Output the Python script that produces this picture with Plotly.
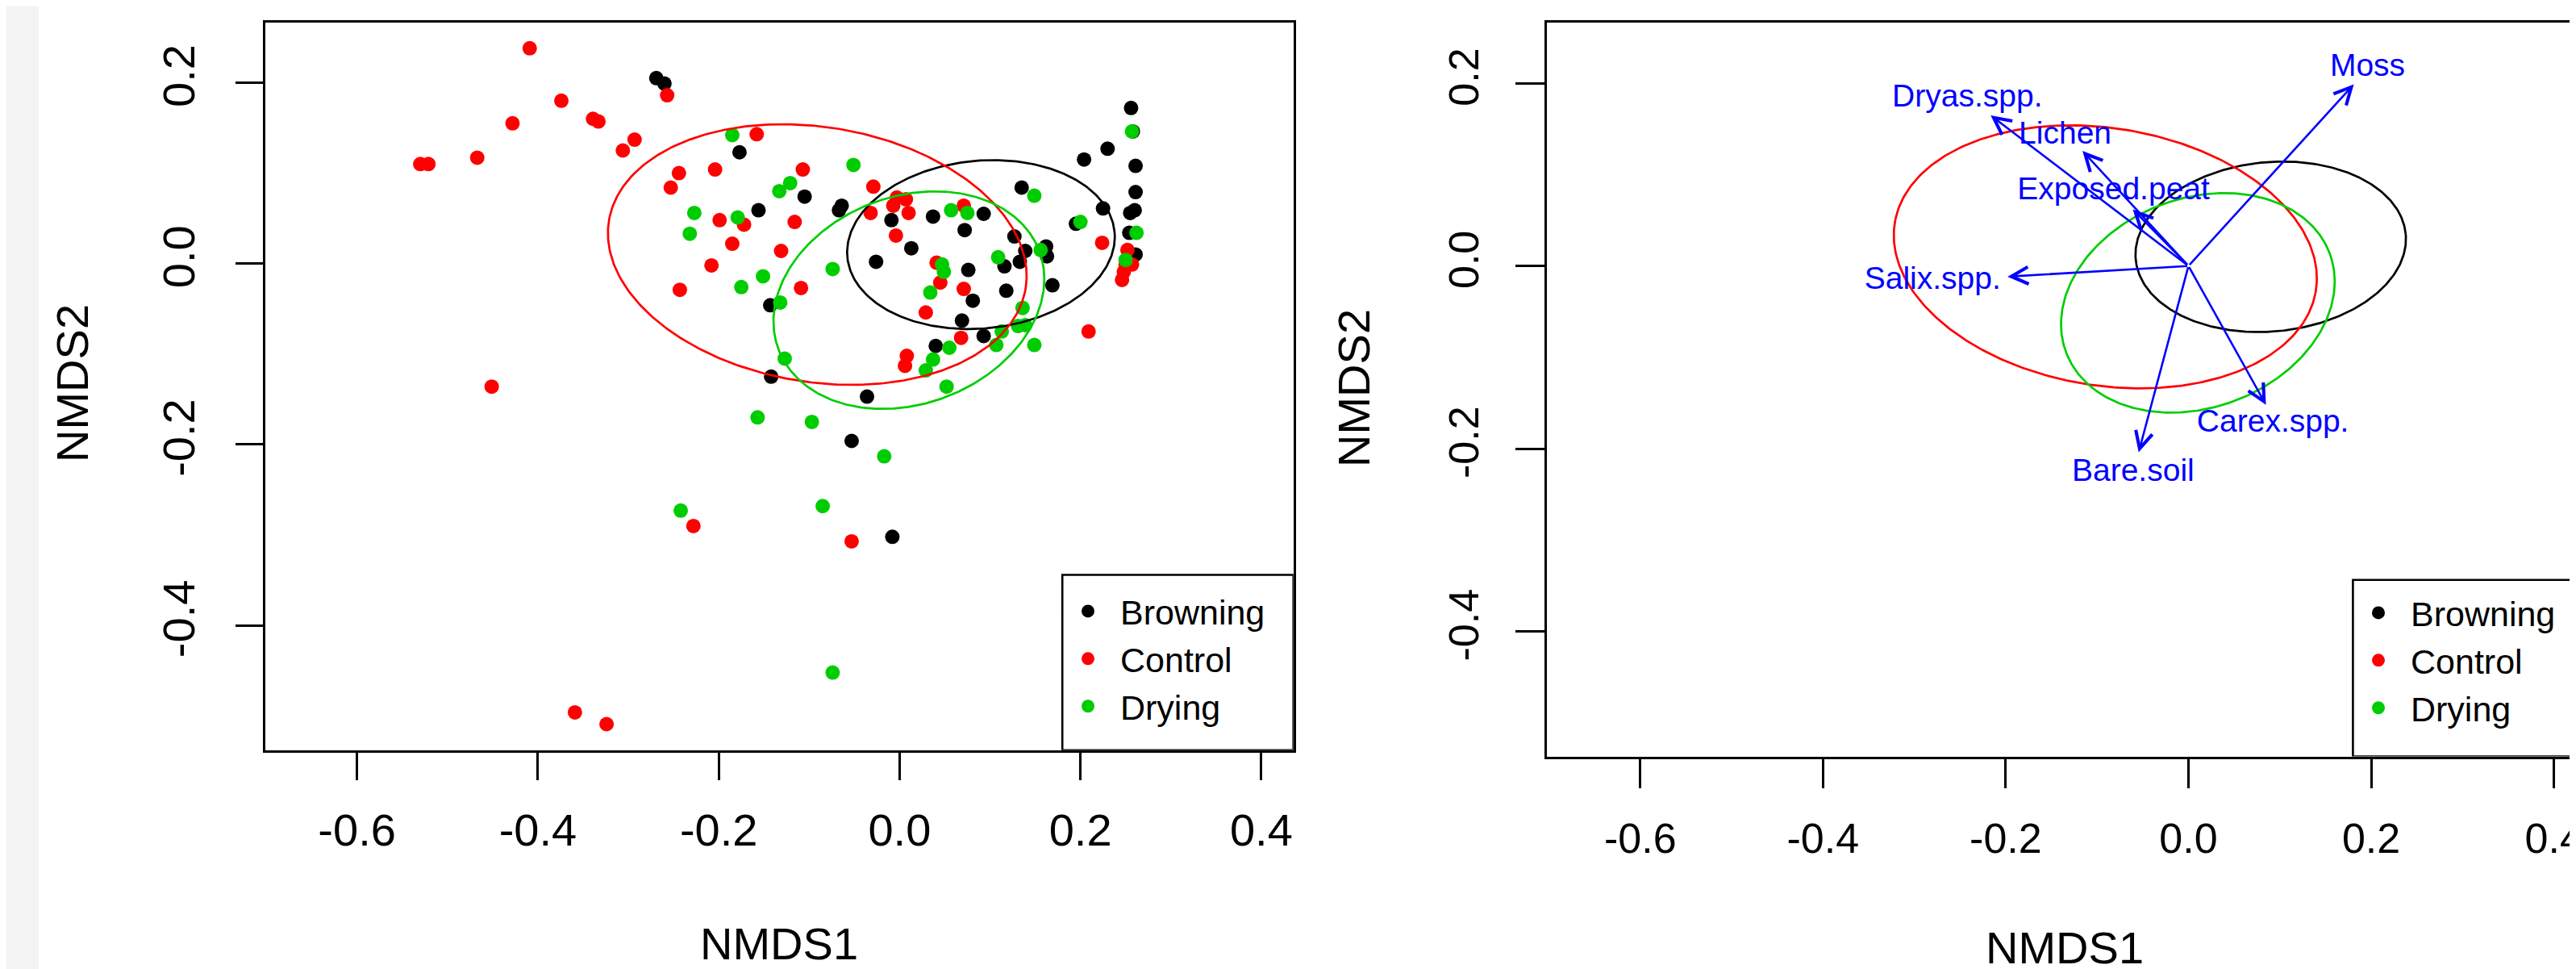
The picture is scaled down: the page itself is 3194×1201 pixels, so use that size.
import numpy as np
import plotly.graph_objects as go

W, H = 3194, 1201

groups = ["Browning", "Control", "Drying"]
colors = ["#000000", "#FF0000", "#00CD00"]

browning_x = [-0.269, -0.260, -0.177, -0.156, -0.105, -0.064, -0.067, -0.009, 0.013, -0.026,
              0.037, 0.072, 0.093, 0.135, 0.127, 0.139, 0.116, 0.133, 0.162, 0.163,
              0.076, 0.081, 0.118, 0.169, 0.069, 0.093, 0.040, -0.143, -0.142, -0.036,
              -0.053, -0.008, 0.204, 0.230, 0.256, 0.258, 0.261, 0.261, 0.260, 0.255,
              0.225, 0.195, 0.254, 0.261]
browning_y = [0.205, 0.199, 0.123, 0.059, 0.074, 0.064, 0.059, 0.048, 0.017, 0.002,
              0.052, 0.037, 0.055, 0.084, 0.030, 0.014, -0.003, 0.002, 0.019, 0.008,
              -0.007, -0.041, -0.030, -0.024, -0.063, -0.080, -0.091, -0.046, -0.125, -0.147,
              -0.196, -0.302, 0.115, 0.127, 0.172, 0.146, 0.108, 0.079, 0.059, 0.056,
              0.061, 0.044, 0.034, 0.010]

control_x = [-0.409, -0.374, -0.428, -0.339, -0.333, -0.257, -0.293, -0.306, -0.530, -0.521,
             -0.467, -0.244, -0.253, -0.158, -0.204, -0.107, -0.199, -0.172, -0.185, -0.116,
             -0.131, -0.208, -0.243, -0.109, -0.029, -0.032, -0.003, 0.007, -0.007, 0.010,
             -0.004, 0.041, 0.045, 0.071, 0.071, 0.029, 0.068, 0.008, 0.006, -0.451,
             -0.228, -0.053, -0.359, -0.324, 0.224, 0.209, 0.252, 0.250, 0.248, 0.246, 0.257]
control_y = [0.238, 0.180, 0.155, 0.160, 0.157, 0.186, 0.137, 0.125, 0.110, 0.110,
             0.117, 0.100, 0.084, 0.143, 0.104, 0.104, 0.048, 0.043, 0.022, 0.046,
             0.014, -0.002, -0.029, -0.027, 0.085, 0.056, 0.073, 0.071, 0.064, 0.056,
             0.031, 0.001, -0.021, 0.064, -0.028, -0.054, -0.082, -0.102, -0.113, -0.136,
             -0.290, -0.307, -0.496, -0.509, 0.023, -0.075, 0.015, -0.001, -0.009, -0.018, -0.001]

drying_x = [-0.185, -0.051, -0.133, -0.121, -0.227, -0.179, -0.232, -0.074, -0.151, -0.175,
            -0.132, -0.127, 0.057, 0.075, 0.149, 0.109, 0.047, 0.049, 0.034, 0.156,
            0.136, 0.131, 0.139, 0.113, 0.107, 0.149, 0.055, 0.037, 0.029, 0.052,
            -0.157, -0.097, -0.017, -0.242, -0.085, -0.074, 0.200, 0.257, 0.262, 0.250]
drying_y = [0.142, 0.109, 0.080, 0.089, 0.056, 0.051, 0.033, -0.006, -0.014, -0.026,
            -0.043, -0.105, 0.059, 0.056, 0.075, 0.007, -0.001, -0.009, -0.032, 0.015,
            -0.049, -0.069, -0.068, -0.075, -0.090, -0.090, -0.093, -0.106, -0.118, -0.136,
            -0.170, -0.175, -0.213, -0.273, -0.268, -0.452, 0.046, 0.146, 0.034, 0.004]

# group ellipses: centre, semi-axes, rotation (degrees)
ell_cx = [0.090, -0.091, 0.0103]
ell_cy = [0.021, 0.010, -0.0404]
ell_a = [0.1484, 0.2334, 0.1541]
ell_b = [0.0927, 0.1409, 0.1146]
ell_angle = [5.4, -9.2, 20.6]

# fitted vectors (envfit) and their labels
arrow_names = ["Moss", "Dryas.spp.", "Lichen", "Exposed.peat", "Salix.spp.", "Bare.soil", "Carex.spp."]
arrow_x = [0.181, -0.2165, -0.116, -0.061, -0.198, -0.0545, 0.0848]
arrow_y = [0.199, 0.165, 0.126, 0.062, -0.0117, -0.204, -0.152]
label_x = [0.196, -0.242, -0.135, -0.082, -0.280, -0.0606, 0.0924]
label_y = [0.217, 0.183, 0.143, 0.0815, -0.016, -0.227, -0.173]

x_ticks = [-0.6, -0.4, -0.2, 0.0, 0.2, 0.4]
x_tick_labels = ["-0.6", "-0.4", "-0.2", "0.0", "0.2", "0.4"]
y_ticks = [-0.4, -0.2, 0.0, 0.2]
y_tick_labels = ["-0.4", "-0.2", "0.0", "0.2"]

FONT = "Liberation Sans, Arial, sans-serif"

pts = {"Browning": (browning_x, browning_y),
       "Control": (control_x, control_y),
       "Drying": (drying_x, drying_y)}

fig = go.Figure()

# left panel: points
for g, c in zip(groups, colors):
    x, y = pts[g]
    fig.add_trace(go.Scatter(x=x, y=y, mode="markers", name=g,
                             marker=dict(color=c, size=18, line=dict(width=0)),
                             xaxis="x", yaxis="y", legend="legend"))


def ellipse(i):
    t = np.linspace(0, 2 * np.pi, 361)
    th = np.deg2rad(ell_angle[i])
    ex = ell_cx[i] + ell_a[i] * np.cos(t) * np.cos(th) - ell_b[i] * np.sin(t) * np.sin(th)
    ey = ell_cy[i] + ell_a[i] * np.cos(t) * np.sin(th) + ell_b[i] * np.sin(t) * np.cos(th)
    return ex, ey


for ax_x, ax_y in [("x", "y"), ("x2", "y2")]:
    for i, c in enumerate(colors):
        ex, ey = ellipse(i)
        fig.add_trace(go.Scatter(x=ex, y=ey, mode="lines", line=dict(color=c, width=2.7),
                                 showlegend=False, hoverinfo="skip", xaxis=ax_x, yaxis=ax_y))

# right panel legend entries (no points drawn in that panel)
for g, c in zip(groups, colors):
    fig.add_trace(go.Scatter(x=[None], y=[None], mode="markers", name=g,
                             marker=dict(color=c, size=18), xaxis="x2", yaxis="y2",
                             legend="legend2"))

# vector labels
fig.add_trace(go.Scatter(x=label_x, y=label_y, mode="text", text=arrow_names,
                         textposition="middle center",
                         textfont=dict(color="#0000FF", size=39, family=FONT),
                         showlegend=False, hoverinfo="skip", xaxis="x2", yaxis="y2"))

annotations = []
for xi, yi in zip(arrow_x, arrow_y):
    annotations.append(dict(x=xi, y=yi, ax=0, ay=0, xref="x2", yref="y2", axref="x2", ayref="y2",
                            text="", showarrow=True, arrowhead=5, arrowsize=1.6, arrowwidth=2.6,
                            arrowcolor="#0000FF", standoff=0))

# axis titles
annotations += [
    dict(text="NMDS1", x=958 / W, y=1 - 1161 / H, xref="paper", yref="paper", showarrow=False,
         xanchor="center", yanchor="middle", font=dict(size=56, family=FONT, color="black")),
    dict(text="NMDS1", x=2552 / W, y=1 - 1166 / H, xref="paper", yref="paper", showarrow=False,
         xanchor="center", yanchor="middle", font=dict(size=56, family=FONT, color="black")),
    dict(text="NMDS2", x=82 / W, y=1 - 467 / H, xref="paper", yref="paper", showarrow=False,
         xanchor="center", yanchor="middle", textangle=-90, font=dict(size=56, family=FONT, color="black")),
    dict(text="NMDS2", x=1670 / W, y=1 - 473 / H, xref="paper", yref="paper", showarrow=False,
         xanchor="center", yanchor="middle", textangle=-90, font=dict(size=56, family=FONT, color="black")),
]

shapes = [
    dict(type="rect", xref="paper", yref="paper", x0=0, x1=40 / W, y0=0, y1=1,
         fillcolor="#F3F3F3", line=dict(width=0), layer="below"),
    dict(type="rect", xref="x", yref="y", x0=0.180, x1=0.4355, y0=-0.5377, y1=-0.344,
         line=dict(color="black", width=2.6), fillcolor="rgba(0,0,0,0)"),
    dict(type="rect", xref="x2", yref="y2", x0=0.180, x1=0.6, y0=-0.537, y1=-0.3437,
         line=dict(color="black", width=2.6), fillcolor="rgba(0,0,0,0)"),
]


def xax(domain, rng, size, ticklen, standoff):
    return dict(domain=domain, range=rng, tickvals=x_ticks, ticktext=x_tick_labels,
                ticks="outside", ticklen=ticklen, tickwidth=2.6, tickcolor="black",
                showline=True, linewidth=3, linecolor="black", mirror=True,
                showgrid=False, zeroline=False, ticklabelstandoff=standoff,
                ticklabeloverflow="allow",
                tickfont=dict(size=size, family=FONT, color="black"))


def yax(domain, rng, size, ticklen, mirror, standoff):
    return dict(domain=domain, range=rng, tickvals=y_ticks, ticktext=y_tick_labels,
                ticks="outside", ticklen=ticklen, tickwidth=2.6, tickcolor="black",
                showline=True, linewidth=3, linecolor="black", mirror=mirror,
                showgrid=False, zeroline=False, tickangle=-90, ticklabelstandoff=standoff,
                tickfont=dict(size=size, family=FONT, color="black"))


fig.update_layout(
    width=W, height=H, margin=dict(l=0, r=0, t=0, b=0),
    paper_bgcolor="white", plot_bgcolor="white",
    xaxis=dict(**xax([320.7 / W, 1595.7 / W], [-0.7016, 0.4355], 56, 34, 14), anchor="y"),
    yaxis=dict(**yax([1 - 921.7 / H, 1 - 19.6 / H], [-0.5377, 0.2667], 56, 34, True, 28), anchor="x"),
    xaxis2=dict(**xax([1910.3 / W, 1.0], [-0.7019, 0.4312], 52, 36, 18), anchor="y2"),
    yaxis2=dict(**yax([1 - 929.5 / H, 1 - 20 / H], [-0.537, 0.2665], 52, 36, False, 26), anchor="x2"),
    legend=dict(x=1301 / W, y=1 - 715 / H, xanchor="left", yanchor="top",
                bgcolor="rgba(0,0,0,0)", borderwidth=0, itemwidth=70,
                font=dict(size=43, family=FONT, color="black")),
    legend2=dict(x=2901 / W, y=1 - 717 / H, xanchor="left", yanchor="top",
                 bgcolor="rgba(0,0,0,0)", borderwidth=0, itemwidth=70,
                 font=dict(size=43, family=FONT, color="black")),
    annotations=annotations, shapes=shapes, showlegend=True,
)

fig.write_html("out.html")
